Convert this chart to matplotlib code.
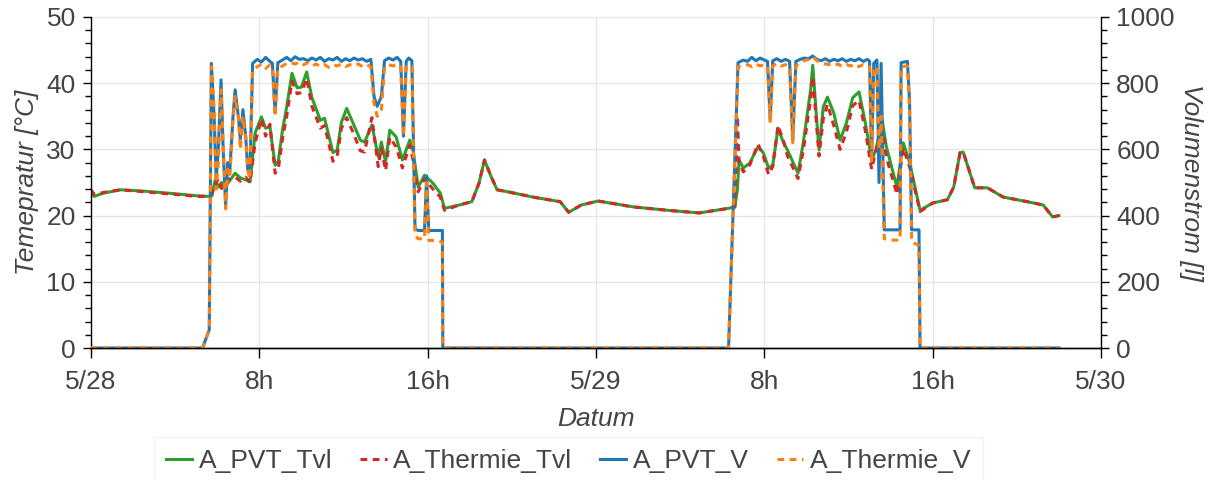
import matplotlib

matplotlib.use("Agg")

import matplotlib.pyplot as plt
import pandas as pd
from matplotlib.ticker import MultipleLocator

plt.rcParams["font.family"] = ["Liberation Sans", "DejaVu Sans"]

START = pd.Timestamp("2021-05-28 00:00")

# temperatures, hours since 5/28 00:00
temp_hours = [
    0.0, 0.15, 0.6, 1.4, 2.5, 4.0, 5.0, 5.6, 5.75, 5.9, 6.05, 6.2, 6.35, 6.55,
    6.85, 7.1, 7.35, 7.56, 7.8, 8.1, 8.3, 8.5, 8.75, 8.9, 9.1, 9.3, 9.55, 9.8,
    10.0, 10.25, 10.5, 10.9, 11.1, 11.5, 11.7, 11.9, 12.15, 12.45, 12.8, 13.0,
    13.35, 13.65, 13.8, 14.0, 14.2, 14.5, 14.8, 15.15, 15.3, 15.55, 15.85,
    16.25, 16.6, 16.8, 17.5, 18.1, 18.45, 18.7, 19.0, 19.3, 19.8, 21.0, 22.3,
    22.7, 23.3, 24.1, 25.8, 27.4, 28.9, 30.3, 30.6, 30.72, 30.8, 31.0, 31.3,
    31.7, 31.95, 32.2, 32.4, 32.65, 32.9, 33.1, 33.6, 33.85, 34.2, 34.3, 34.5,
    34.6, 34.8, 35.0, 35.3, 35.6, 35.9, 36.2, 36.5, 36.8, 37.1, 37.3, 37.6,
    37.8, 38.3, 38.6, 38.9, 39.4, 40.0, 40.7, 41.0, 41.3, 41.45, 42.0, 42.6,
    43.35, 44.5, 45.25, 45.7, 46.0,
]
pvt_tvl = [
    23.4, 22.9, 23.4, 23.9, 23.7, 23.3, 23.0, 22.9, 23.0, 25.4, 24.3, 25.0, 24.3, 25.1,
    26.4, 25.7, 25.4, 25.1, 32.5, 34.9, 33.2, 33.5, 27.6, 28.2, 32.9, 36.4, 41.5, 39.3,
    39.4, 41.7, 37.8, 34.4, 34.7, 29.5, 29.9, 34.1, 36.2, 34.0, 31.4, 31.1,
    33.7, 28.9, 31.1, 28.1, 32.9, 31.9, 28.4, 31.4, 29.9, 24.3, 26.1,
    24.9, 23.4, 21.1, 21.6, 22.1, 25.0, 28.4, 26.0, 23.9, 23.6, 22.8, 22.1,
    20.5, 21.6, 22.2, 21.3, 20.8, 20.4, 21.1, 21.3, 24.0, 28.4, 27.2, 27.9,
    30.4, 29.5, 27.2, 27.6, 33.2, 31.1, 29.9, 26.4, 31.0, 39.0, 42.7, 34.0,
    29.9, 36.4, 37.9, 35.5, 31.4, 34.0, 37.8, 38.7, 34.0, 28.4, 29.9, 34.4,
    30.4, 24.3, 31.0, 28.1, 20.8, 21.9, 22.4, 24.3, 29.5, 29.6, 24.2, 24.2,
    22.8, 22.1, 21.6, 19.8, 20.0,
]
thermie_tvl = [
    23.9, 23.2, 23.5, 23.9, 23.6, 23.2, 22.9, 22.9, 23.4, 24.6, 25.6, 24.1, 24.8, 25.5,
    25.8, 25.2, 25.8, 25.0, 31.0, 34.6, 32.0, 33.8, 26.4, 27.0, 31.6, 35.0, 40.3, 38.4,
    38.6, 40.7, 36.5, 33.2, 33.6, 28.2, 29.0, 33.2, 34.8, 32.6, 29.8, 29.6,
    34.8, 27.4, 30.2, 26.8, 31.8, 30.4, 27.2, 30.6, 28.4, 23.6, 25.6,
    24.0, 22.8, 20.8, 21.6, 22.1, 25.0, 28.4, 26.0, 23.9, 23.6, 22.8, 22.1,
    20.5, 21.6, 22.2, 21.3, 20.8, 20.4, 21.1, 21.3, 35.0, 28.0, 26.6, 27.6,
    30.8, 29.0, 26.2, 27.4, 33.6, 31.4, 29.0, 25.6, 29.8, 37.6, 41.0, 33.0,
    29.0, 34.6, 36.8, 33.6, 30.0, 32.6, 36.6, 37.4, 32.8, 27.0, 29.8, 33.4,
    28.8, 23.2, 30.2, 27.4, 20.6, 21.9, 22.4, 24.3, 29.5, 29.6, 24.2, 24.2,
    22.8, 22.1, 21.6, 19.8, 20.0,
]

# flow rates
flow_hours = [
    0.0, 5.3, 5.62, 5.72, 5.85, 5.95, 6.05, 6.18, 6.28, 6.4, 6.5, 6.6, 6.75,
    6.85, 7.0, 7.1, 7.22, 7.35, 7.45, 7.55, 7.68, 7.9, 8.1, 8.3, 8.5, 8.62,
    8.75, 8.88, 9.1, 9.3, 9.5, 9.7, 9.9, 10.1, 10.3, 10.5, 10.7, 10.9, 11.1,
    11.3, 11.5, 11.7, 11.9, 12.1, 12.3, 12.5, 12.7, 12.9, 13.1, 13.3, 13.45,
    13.6, 13.8, 13.95, 14.15, 14.35, 14.55, 14.72, 14.85, 14.98, 15.1, 15.25,
    15.4, 15.55, 15.85, 15.95, 16.05, 16.4, 16.7, 16.72, 30.3, 30.75, 31.0,
    31.2, 31.4, 31.6, 31.8, 32.0, 32.15, 32.28, 32.4, 32.6, 32.8, 33.0, 33.2,
    33.35, 33.5, 33.7, 33.9, 34.1, 34.3, 34.5, 34.7, 34.9, 35.1, 35.3, 35.5,
    35.7, 35.9, 36.1, 36.3, 36.5, 36.7, 36.9, 37.0, 37.1, 37.2, 37.35, 37.45,
    37.55, 37.7, 38.1, 38.45, 38.5, 38.8, 38.9, 39.0, 39.35, 39.4, 46.0,
]
pvt_v = [
    0, 0, 55, 860, 700, 510, 600, 810, 600, 430, 560, 540, 700,
    780, 700, 630, 720, 640, 540, 520, 860, 872, 864, 878, 866, 860,
    710, 862, 870, 878, 868, 880, 872, 874, 868, 876, 870, 878, 866,
    874, 870, 878, 866, 874, 868, 876, 870, 874, 866, 872, 760,
    730, 760, 868, 876, 870, 878, 866, 640, 866, 876, 868,
    360, 355, 355, 520, 355, 355, 355, 0, 0, 862, 870,
    866, 878, 868, 876, 870, 866, 690, 868, 874, 866, 872, 866,
    630, 866, 872, 876, 874, 882, 872, 868, 874, 866, 872, 868,
    874, 866, 872, 868, 874, 866, 872, 866, 570, 860, 870, 500,
    860, 357, 357, 357, 862, 866, 750, 357, 357, 0, 0,
]
thermie_v = [
    0, 0, 55, 850, 720, 480, 560, 780, 620, 420, 540, 520, 690,
    760, 700, 600, 700, 640, 540, 510, 840, 850, 858, 845, 855, 850,
    700, 845, 852, 860, 862, 858, 864, 856, 862, 852, 858, 850, 856,
    848, 856, 852, 858, 850, 856, 852, 858, 850, 856, 850, 740,
    700, 720, 850, 856, 852, 858, 850, 640, 850, 856, 852,
    340, 330, 330, 500, 325, 325, 320, 0, 0, 850, 852,
    856, 850, 858, 852, 856, 850, 680, 852, 860, 852, 856, 850,
    620, 852, 862, 868, 872, 880, 868, 860, 858, 856, 852, 858,
    850, 856, 852, 858, 850, 856, 852, 850, 560, 840, 850, 600,
    700, 330, 326, 326, 850, 852, 720, 320, 310, 0, 0,
]

x_tick_hours = [0, 8, 16, 24, 32, 40, 48]
x_tick_labels = ["5/28", "8h", "16h", "5/29", "8h", "16h", "5/30"]

TEXT = "#444444"
GRID = "#e6e6e6"
FS = 19


def to_time(hours):
    return [START + pd.Timedelta(hours=h) for h in hours]


fig = plt.figure(figsize=(12.25, 4.8), dpi=100)
ax = fig.add_axes([91 / 1225, 1 - 348 / 480, 1010 / 1225, 331 / 480])
ax2 = ax.twinx()

(l1,) = ax.plot(to_time(temp_hours), pvt_tvl, color="#2ca02c", lw=2.2, label="A_PVT_Tvl")
(l2,) = ax.plot(
    to_time(temp_hours), thermie_tvl, color="#d62728", lw=2.2,
    linestyle=(0, (2.2, 1.8)), label="A_Thermie_Tvl",
)
(l3,) = ax2.plot(to_time(flow_hours), pvt_v, color="#1f77b4", lw=2.2, label="A_PVT_V")
(l4,) = ax2.plot(
    to_time(flow_hours), thermie_v, color="#ff7f0e", lw=2.2,
    linestyle=(0, (2.2, 1.8)), label="A_Thermie_V",
)

ax.set_xlim(START, START + pd.Timedelta(hours=48))
ax.set_ylim(0, 50)
ax2.set_ylim(0, 1000)

ax.set_xticks(to_time(x_tick_hours))
ax.set_xticklabels(x_tick_labels)
ax.yaxis.set_major_locator(MultipleLocator(10))
ax.yaxis.set_minor_locator(MultipleLocator(2))
ax2.yaxis.set_major_locator(MultipleLocator(200))
ax2.yaxis.set_minor_locator(MultipleLocator(40))

ax.grid(True, color=GRID, lw=1)
ax.set_axisbelow(True)

for a in (ax, ax2):
    a.spines["top"].set_visible(False)
    for s in ("left", "right", "bottom"):
        a.spines[s].set_linewidth(1)
        a.spines[s].set_color("black")
    a.tick_params(axis="y", which="major", length=6, width=1, labelsize=FS,
                  labelcolor=TEXT, pad=5)
    a.tick_params(axis="y", which="minor", length=4, width=1)
ax.tick_params(axis="x", which="major", length=7, width=1, labelsize=FS,
               labelcolor=TEXT, pad=9)
ax.spines["right"].set_visible(False)
ax2.spines["left"].set_visible(False)

ax.set_xlabel("Datum", fontsize=FS, style="italic", color=TEXT, labelpad=9)
ax.set_ylabel("Temepratur [°C]", fontsize=FS, style="italic", color=TEXT, labelpad=5)
ax2.set_ylabel("Volumenstrom [l]", fontsize=FS, style="italic", color=TEXT,
               rotation=270, labelpad=20)

leg = fig.legend(
    handles=[l1, l2, l3, l4], loc="upper left", bbox_to_anchor=(154 / 1225, 1 - 437 / 480),
    borderaxespad=0, ncol=4, fontsize=FS, frameon=True, fancybox=False,
    handlelength=1.0, handletextpad=0.25, columnspacing=1.05, borderpad=0.45,
)
leg.get_frame().set_edgecolor("#eeeeee")
leg.get_frame().set_linewidth(1)
for t in leg.get_texts():
    t.set_color(TEXT)

fig.savefig("out.png", dpi=100)
